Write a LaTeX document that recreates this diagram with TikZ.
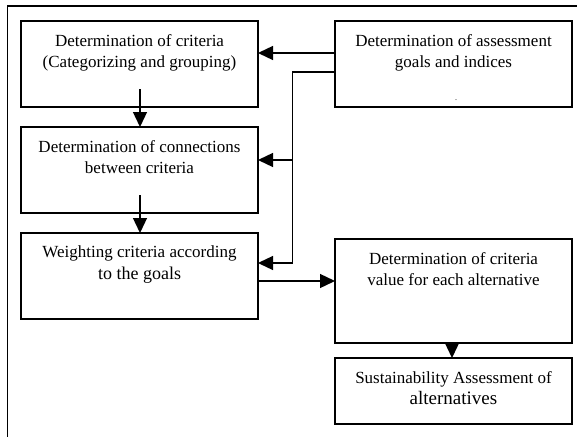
\documentclass[tikz,border=0pt]{standalone}
\usepackage{fontspec}
\setmainfont{Liberation Serif}
\usetikzlibrary{arrows.meta}
\begin{document}
\begin{tikzpicture}[x=1pt,y=-1pt,
  box/.style={draw, line width=1.3pt, minimum width=237pt, inner sep=0pt, outer sep=0pt},
  txt/.style={anchor=north, align=center, inner sep=0pt, font=\fontsize{17}{21}\selectfont},
  conn/.style={line width=1.3pt},
  arr/.style={line width=1.3pt, -{Triangle[length=15pt,width=14pt]}}]
\useasboundingbox (0,0) rectangle (577,436);
% outer frame (cropped)
\draw[line width=1.6pt] (7.5,437) -- (7.5,6) -- (578,6);
% boxes
\node[box, minimum height=86pt] (b1) at (139.5,64) {};
\node[box, minimum height=86pt] (b2) at (139.5,170) {};
\node[box, minimum height=86pt] (b3) at (139.5,276) {};
\node[box, minimum height=86pt] (g) at (453.5,64) {};
\node[box, minimum height=104pt] (v) at (453.5,291) {};
\node[box, minimum height=66pt] (s) at (453.5,391) {};
% texts
\node[txt] (t1) at (139.5,34) {Determination of criteria\\(Categorizing and grouping)};
\node[txt] (t2) at (139.5,140) {Determination of connections\\between criteria};
\node[txt] (t3) at (139.5,246) {Weighting criteria according\\{\fontsize{18}{21}\selectfont to the goals}};
\node[txt] (tg) at (453.5,34) {Determination of assessment\\goals and indices};
\node[txt] (tv) at (453.5,252) {Determination of criteria\\value for each alternative};
\node[txt] (ts) at (453.5,371) {Sustainability Assessment of\\{\fontsize{19}{21}\selectfont alternatives}};
\node[inner sep=0pt, font=\fontsize{8}{8}\selectfont, anchor=base] (dot) at (456,100) {.};
% connector points
\coordinate (gA) at (335,53);
\coordinate (gB) at (335,72);
\coordinate (c1) at (292.5,72);
\coordinate (c2) at (292.5,263);
\coordinate (c3) at (292.5,160);
\coordinate (d1) at (140,89);
\coordinate (d2) at (140,195);
\coordinate (h) at (258,281);
% connectors
\draw[arr] (gA) -- (b1.east |- gA);
\draw[conn] (gB) -- (c1) -- (c2);
\draw[arr] (c2) -- (b3.east |- c2);
\draw[arr] (c3) -- (b2.east |- c3);
\draw[arr] (d1) -- (d1 |- b2.north);
\draw[arr] (d2) -- (d2 |- b3.north);
\draw[arr] (b3.east |- h) -- (v.west |- h);
\draw[arr] ([xshift=-1.5pt]v.south) -- ([xshift=-1.5pt]s.north);
\end{tikzpicture}
\end{document}
